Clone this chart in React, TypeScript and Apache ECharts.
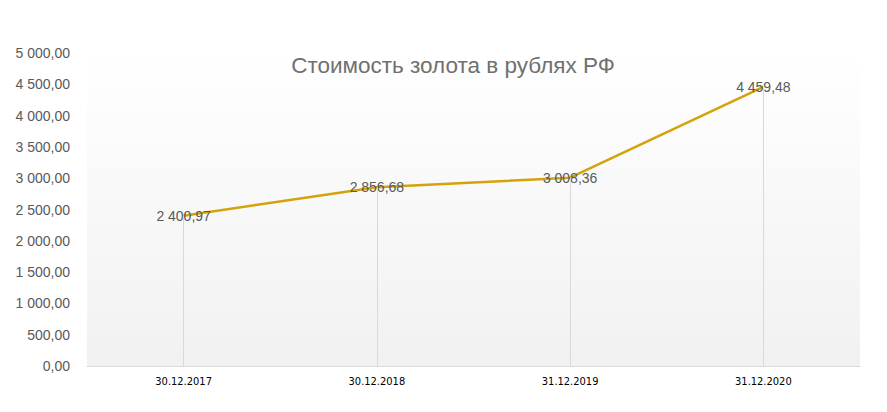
import * as echarts from "echarts";
import { useEffect, useRef } from "react";

const dates = ["30.12.2017", "30.12.2018", "31.12.2019", "31.12.2020"];
const goldPrice = [2400.97, 2856.68, 3008.36, 4459.48];

const fmt = (v: number) => {
  const [int, dec] = v.toFixed(2).split(".");
  return int.replace(/\B(?=(\d{3})+(?!\d))/g, " ") + "," + dec;
};

const App = () => {
  const chartRef = useRef<HTMLDivElement>(null);

  useEffect(() => {
    const chart = echarts.init(chartRef.current!, null, { renderer: "svg" });
    chart.setOption({
      animation: false,
      backgroundColor: "#ffffff",
      title: {
        text: "Стоимость золота в рублях РФ",
        left: 448,
        textAlign: "center",
        top: 49,
        textStyle: {
          fontFamily: "Liberation Sans",
          fontSize: 22.5,
          fontWeight: "normal",
          color: "#707070",
        },
      },
      grid: {
        left: 87,
        right: 27,
        top: 53,
        bottom: 46,
        show: true,
        borderWidth: 0,
        backgroundColor: new echarts.graphic.LinearGradient(0, 0, 0, 1, [
          { offset: 0, color: "#ffffff" },
          { offset: 1, color: "#f1f1f1" },
        ]),
      },
      xAxis: {
        type: "category",
        data: dates,
        boundaryGap: true,
        axisLine: { lineStyle: { color: "#d9d9d9", width: 1 } },
        axisTick: { show: false },
        axisLabel: {
          color: "#000000",
          fontFamily: "DejaVu Sans Condensed, Liberation Sans",
          fontSize: 11,
          margin: 10,
        },
      },
      yAxis: {
        type: "value",
        min: 0,
        max: 5000,
        interval: 500,
        axisLine: { show: false },
        axisTick: { show: false },
        splitLine: { show: false },
        axisLabel: {
          color: "#595959",
          fontFamily: "Liberation Sans",
          fontSize: 14,
          margin: 17,
          formatter: (v: number) => fmt(v),
        },
      },
      series: [
        {
          type: "line",
          data: goldPrice,
          symbol: "circle",
          symbolSize: 2,
          showSymbol: true,
          itemStyle: { color: "rgba(0,0,0,0)", borderWidth: 0 },
          lineStyle: { color: "#d4a20a", width: 2.5 },
          label: {
            show: true,
            position: "inside",
            color: "#595959",
            fontFamily: "Liberation Sans",
            fontSize: 14,
            formatter: (p: any) => fmt(p.value),
          },
          markLine: {
            silent: true,
            symbol: "none",
            label: { show: false },
            lineStyle: { color: "#d9d9d9", width: 1, type: "solid" },
            data: dates.map((d, i) => [
              { coord: [d, 0] },
              { coord: [d, goldPrice[i]] },
            ]),
          },
          z: 3,
        },
      ],
    });
    return () => chart.dispose();
  }, []);

  return (
    <div
      ref={chartRef}
      style={{ position: "fixed", left: 0, top: 0, width: 887, height: 412 }}
    />
  );
};

export default App;
